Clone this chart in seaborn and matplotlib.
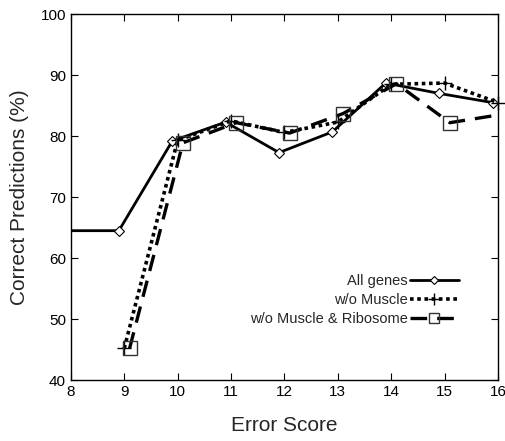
import numpy as np
import pandas as pd
import matplotlib
matplotlib.use("Agg")
import matplotlib.pyplot as plt
import seaborn as sns

# values
x_all = [8.0, 8.9, 9.9, 10.9, 11.9, 12.9, 13.9, 14.9, 15.9]
y_all = [64.5, 64.5, 79.2, 82.3, 77.3, 80.7, 88.7, 87.0, 85.5]

x_muscle = [9, 10, 11, 12, 13, 14, 15, 16]
y_muscle = [45.2, 79.3, 82.5, 80.6, 82.3, 88.5, 88.7, 85.5]

x_ribo = [9.1, 10.1, 11.1, 12.1, 13.1, 14.1, 15.1, 16.1]
y_ribo = [45.2, 78.9, 82.2, 80.5, 83.7, 88.6, 82.2, 83.6]

labels = ["All genes", "w/o Muscle", "w/o Muscle & Ribosome"]

sns.set_style("ticks")
plt.rcParams["font.family"] = ["Liberation Sans", "DejaVu Sans"]

fig = plt.figure(figsize=(5.06, 4.41), dpi=100)
ax = fig.add_axes([0.140, 0.138, 0.844, 0.830])

df_all = pd.DataFrame({"x": x_all, "y": y_all})
df_mus = pd.DataFrame({"x": x_muscle, "y": y_muscle})
df_rib = pd.DataFrame({"x": x_ribo, "y": y_ribo})

sns.lineplot(data=df_all, x="x", y="y", ax=ax, color="black", lw=2,
             marker="D", ms=5.5, mfc="white", mec="black", mew=0.8,
             markevery=list(range(1, len(x_all))), label=labels[0])
sns.lineplot(data=df_mus, x="x", y="y", ax=ax, color="black", lw=2.6,
             linestyle=(0, (1, 1)), marker="+", ms=10, mec="black", mew=1,
             label=labels[1], clip_on=False)
sns.lineplot(data=df_rib, x="x", y="y", ax=ax, color="black", lw=2.4,
             linestyle=(0, (5, 3)), marker="s", ms=9.5, mfc="none",
             mec="#333333", mew=1, markevery=list(range(len(x_ribo) - 1)),
             label=labels[2])

ax.set_xlim(8, 16)
ax.set_ylim(40, 100)
ax.set_xticks(range(8, 17))
ax.set_yticks(range(40, 101, 10))
ax.tick_params(direction="in", top=True, right=True, length=5, width=0.8,
               labelsize=11, colors="black")
for s in ax.spines.values():
    s.set_linewidth(1)
    s.set_color("black")

ax.set_xlabel("Error Score", fontsize=15, labelpad=12)
ax.set_ylabel("Correct Predictions (%)", fontsize=15, labelpad=8)

ax.legend(loc="lower right", bbox_to_anchor=(0.94, 0.112), frameon=False,
          markerfirst=False, fontsize=10.5, handlelength=3.4,
          handletextpad=0.1, labelspacing=0.35, markerscale=0.8)

fig.savefig("out.png", dpi=100)
